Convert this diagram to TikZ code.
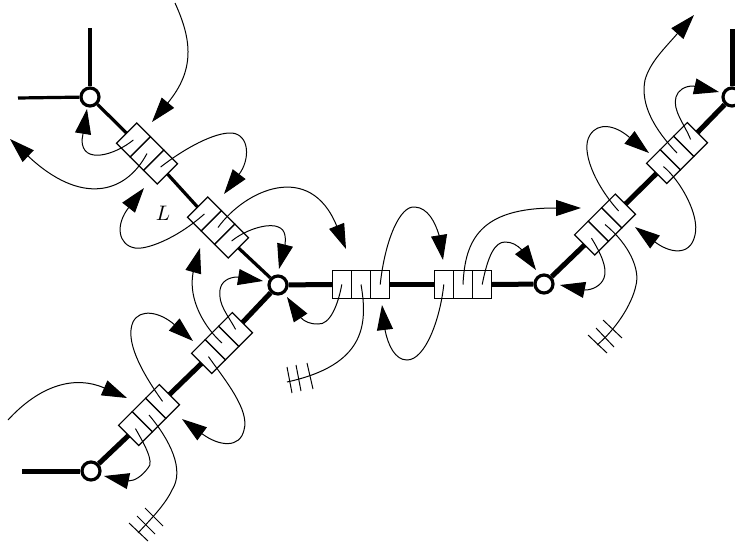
\documentclass[tikz,border=0pt]{standalone}
\usepackage{amsmath,amssymb}
\usetikzlibrary{arrows.meta}

\begin{document}
\begin{tikzpicture}[
  x=1pt,y=-1pt,
  site/.style={circle,draw,fill=white,line width=3.2pt,inner sep=0pt,minimum size=18pt},
  cell/.style={rectangle,draw,fill=white,line width=1.2pt,inner sep=0pt,outer sep=0pt,minimum width=19.2pt,minimum height=28.5pt},
  bond/.style={line width=5pt},
  thinbond/.style={line width=3.2pt},
  wire/.style={line width=1pt},
  arrow/.style={wire,-{Triangle[length=25pt,width=16pt]}}
]
\useasboundingbox (0,0) rectangle (735,546);

\node[site] (A) at (90,97) {};
\node[site] (B) at (278,285) {};
\node[site] (C) at (91,471) {};
\node[site] (D) at (544,284) {};
\node[site] (E) at (732,97) {};

% three cells per link
\foreach \n/\x/\y/\a in {p/147/153.5/-45,q/218/227.5/-45,r/222/343/45,s/149/415/45,
    t/361/284.5/0,u/463/284.5/0,v/677/153/45,w/605/224.5/45}{
  \node[cell,rotate=\a] (\n2) at (\x,\y) {};
  \node[cell,rotate=\a,anchor=east] (\n1) at (\n2.west) {};
  \node[cell,rotate=\a,anchor=west] (\n3) at (\n2.east) {};
}

% free ends
\foreach \n/\x/\y in {p0/152/122,p1/87/109,p2/10/139,p3/224/194,q1/144/188,q2/346/249,q3/279/269,
    r1/182/419,r2/200/248,r3/263/281,s0/127/398,s1/104/476,s3/193/341,
    t1/287/297,t3/443/260,u1/382/305,u2/581/208,u3/536/270,
    v1/635/227,v2/694/15,v3/719/92,w1/560/285,w3/649/153,
    a0/90/28,a1/18/98,c0/22/471,e0/732/29,k0/175/3,k1/8/420,
    hs/138/533,ht/287/382,hw/597/345}{
  \coordinate (end\n) at (\x,\y);
}

\draw[thinbond] (A) -- (enda0);
\draw[thinbond] (A) -- (enda1);
\draw[bond] (C) -- (endc0);
\draw[bond] (E) -- (ende0);
\draw[thinbond] (A) -- (p1.west);
\draw[thinbond] (p3.east) -- (q1.west);
\draw[thinbond] (q3.east) -- (B);
\draw[bond] (C) -- (s1.west);
\draw[bond] (s3.east) -- (r1.west);
\draw[bond] (r3.east) -- (B);
\draw[bond] (B) -- (t1.west);
\draw[bond] (t3.east) -- (u1.west);
\draw[bond] (u3.east) -- (D);
\draw[bond] (D) -- (w1.west);
\draw[bond] (w3.east) -- (v1.west);
\draw[bond] (v3.east) -- (E);

% upper left
\draw[arrow] (endk0) .. controls (192,40) and (195,70) .. (endp0);
\draw[arrow] (p1.center) .. controls (115,155) and (82,165) .. (82,140) -- (endp1);
\draw[arrow] (p2.center) .. controls (125,195) and (80,205) .. (endp2);
\draw[arrow] (p3.center) .. controls (185,148) and (215,132) .. (232,133) .. controls (250,135) and (250,160) .. (endp3);
\draw[arrow] (q1.center) .. controls (175,240) and (145,250) .. (135,248) .. controls (118,245) and (115,225) .. (endq1);
\draw[arrow] (q2.center) .. controls (245,190) and (310,160) .. (endq2);
\draw[arrow] (q3.center) .. controls (245,230) and (265,224) .. (275,226) .. controls (285,228) and (286,235) .. (285,245) -- (endq3);
\node[scale=2.1] (len) at (163,213) {\(L\)};

% lower left
\draw[arrow] (r3.center) .. controls (228,315) and (218,305) .. (220,290) .. controls (221,282) and (228,277) .. (238,277) -- (endr3);
\draw[arrow] (r2.center) .. controls (205,328) and (188,300) .. (193,273) -- (endr2);
\draw[arrow] (r1.center) .. controls (225,380) and (250,410) .. (244,430) .. controls (240,448) and (220,447) .. (endr1);
\draw[arrow] (s3.center) .. controls (140,370) and (125,340) .. (133,322) .. controls (140,308) and (160,312) .. (ends3);
\draw[wire] (s2.center) .. controls (170,440) and (185,470) .. (172,490) .. controls (165,505) and (150,520) .. (endhs);
\draw[arrow] (s1.center) .. controls (143,442) and (155,462) .. (148,468) .. controls (142,476) and (135,481) .. (128,481) -- (ends1);
\draw[arrow] (endk1) .. controls (40,385) and (75,375) .. (ends0);

% middle
\draw[arrow] (t1.center) .. controls (338,305) and (330,325) .. (318,324) .. controls (310,324) and (305,322) .. (300,317) -- (endt1);
\draw[wire] (t2.center) .. controls (368,325) and (365,365) .. (endht);
\draw[arrow] (t3.center) .. controls (385,240) and (400,205) .. (415,207) .. controls (428,208) and (435,222) .. (439,235) -- (endt3);
\draw[arrow] (u1.center) .. controls (440,320) and (425,360) .. (407,360) .. controls (395,360) and (388,345) .. (385,330) -- (endu1);
\draw[arrow] (u2.center) .. controls (465,240) and (480,208) .. (555,208) -- (endu2);
\draw[arrow] (u3.center) .. controls (488,255) and (495,242) .. (505,242) .. controls (512,242) and (517,245) .. (522,250) -- (endu3);

% right
\draw[arrow] (v3.center) .. controls (685,125) and (672,110) .. (676,97) .. controls (678,90) and (685,86) .. (693,86) -- (endv3);
\draw[arrow] (v2.center) .. controls (655,130) and (640,105) .. (645,80) .. controls (650,62) and (665,48) .. (677,34) -- (endv2);
\draw[arrow] (v1.center) .. controls (680,180) and (700,215) .. (695,235) .. controls (690,258) and (668,252) .. (655,242) -- (endv1);
\draw[arrow] (w3.center) .. controls (595,185) and (580,150) .. (590,135) .. controls (598,122) and (615,125) .. (629,137) -- (endw3);
\draw[wire] (w2.center) .. controls (630,245) and (640,270) .. (636,285) .. controls (632,305) and (615,330) .. (endhw);
\draw[arrow] (w1.center) .. controls (600,252) and (608,268) .. (604,278) .. controls (601,286) and (592,290) .. (585,290) -- (endw1);

% cross ticks on the loose ends
\foreach \xa/\ya/\xb/\yb in {145/508/163/526,137/516/155/534,129/523/148/541,
    287/367/292/393,296/365/301/391,307/363/313/389,
    603/320/622/338,596/328/614/347,588/335/607/353}{
  \draw[wire] (\xa,\ya) -- (\xb,\yb);
}
\end{tikzpicture}
\end{document}
